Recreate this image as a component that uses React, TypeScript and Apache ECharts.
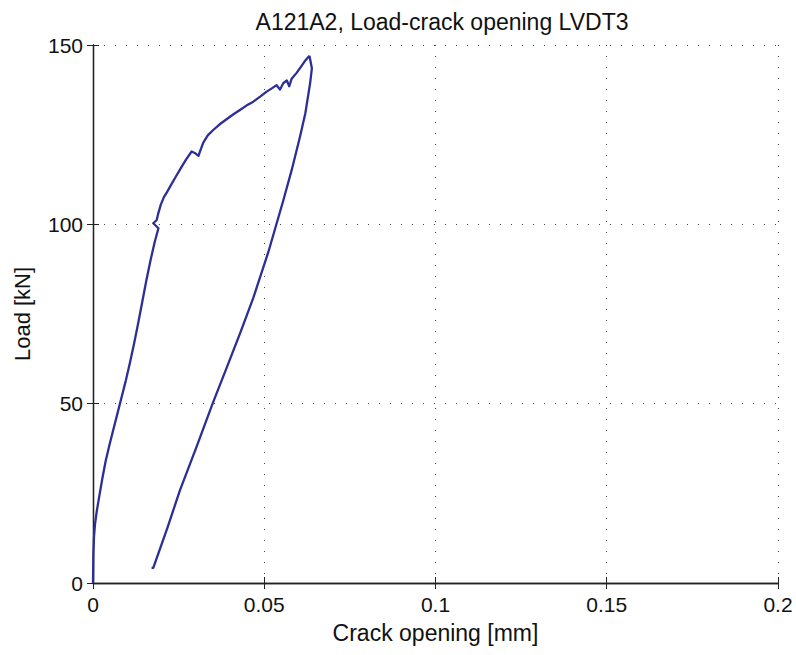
import React, { useEffect, useRef } from "react";
import * as echarts from "echarts";

const titleText = "A121A2, Load-crack opening LVDT3";
const xTicks = [0, 0.05, 0.1, 0.15, 0.2];
const yTicks = [0, 50, 100, 150];

// Loading branch (crack opening mm, load kN)
const loadX = [0, 0.00005, 0.0001, 0.0003, 0.0006, 0.0011, 0.0018, 0.0027, 0.0037, 0.0048, 0.0060, 0.0072, 0.0084, 0.0096, 0.0108, 0.0120, 0.0132, 0.0144, 0.0156, 0.0168, 0.0180, 0.0191, 0.0176, 0.0186, 0.0191, 0.0198, 0.0207, 0.0216, 0.0225, 0.0240, 0.0256, 0.0272, 0.0288, 0.0297, 0.0308, 0.0313, 0.0322, 0.0335, 0.0351, 0.0370, 0.0390, 0.0410, 0.0429, 0.0448, 0.0468, 0.0488, 0.0507, 0.0522, 0.0536, 0.0546, 0.0556, 0.0566, 0.0573, 0.0580, 0.0595, 0.0609, 0.0620, 0.0632];
const loadY = [0, 4, 8, 13, 16.5, 20, 24, 29, 34, 38.5, 43, 47.5, 52, 56.5, 61.5, 66.8, 72.5, 78.5, 84.5, 90, 95, 98.9, 100.3, 101.2, 103.2, 105.5, 107.6, 109, 110.5, 113, 115.6, 118.1, 120.3, 119.9, 119.1, 120.5, 122.8, 124.8, 126.3, 127.9, 129.3, 130.7, 131.9, 133.1, 134.2, 135.6, 137, 137.9, 138.8, 137.6, 139.4, 140.1, 138.5, 140.6, 142.3, 144.2, 145.7, 147];

// Unloading branch
const unloadX = [0.0632, 0.0639, 0.0634, 0.0620, 0.0604, 0.0580, 0.0556, 0.0512, 0.0468, 0.0431, 0.0391, 0.0350, 0.0302, 0.0254, 0.0218, 0.0176, 0.0171];
const unloadY = [147, 143.5, 139.4, 131.0, 124.3, 115.1, 106.8, 92.3, 79.5, 70.0, 60.2, 50.2, 37.9, 25.9, 15.6, 4.2, 4.2];

const lineColor = "#2b2f96";

export default function App() {
  const ref = useRef<HTMLDivElement>(null);
  useEffect(() => {
    if (!ref.current) return;
    const chart = echarts.init(ref.current, null, { renderer: "svg" });
    const loadPts = loadX.map((x, i) => [x, loadY[i]]);
    const unloadPts = unloadX.map((x, i) => [x, unloadY[i]]);
    const font = "'Liberation Sans', Arial, Helvetica, sans-serif";
    const gridLine = { show: true, lineStyle: { color: "#444", type: [1, 10], width: 1 } };
    const boxLine = { show: true, lineStyle: { color: "#222", width: 1.3 } };
    const tick = { show: true, inside: true, length: 6, lineStyle: { color: "#222" } };
    chart.setOption({
      animation: false,
      backgroundColor: "#ffffff",
      title: {
        text: titleText,
        left: 437,
        top: 5,
        textAlign: "center",
        textStyle: { fontFamily: font, fontSize: 23, fontWeight: "normal", color: "#111" },
      },
      grid: { left: 93, right: 18, top: 45, bottom: 72, containLabel: false },
      xAxis: [
        {
          type: "value",
          min: 0,
          max: 0.2,
          interval: 0.05,
          name: "Crack opening [mm]",
          nameLocation: "middle",
          nameGap: 38,
          nameTextStyle: { fontFamily: font, fontSize: 23, color: "#111" },
          axisLine: boxLine,
          axisTick: tick,
          axisLabel: {
            fontFamily: font,
            fontSize: 21,
            color: "#111",
            margin: 11,
            formatter: (v: number) => (xTicks.indexOf(v) >= 0 ? String(v) : ""),
          },
          splitLine: gridLine,
        },
        {
          type: "value",
          position: "top",
          min: 0,
          max: 0.2,
          interval: 0.05,
          axisLine: boxLine,
          axisTick: tick,
          axisLabel: { show: false },
          splitLine: { show: false },
        },
      ],
      yAxis: [
        {
          type: "value",
          min: 0,
          max: 150,
          interval: 50,
          name: "Load [kN]",
          nameLocation: "middle",
          nameGap: 60,
          nameTextStyle: { fontFamily: font, fontSize: 22, color: "#111" },
          axisLine: boxLine,
          axisTick: tick,
          axisLabel: {
            fontFamily: font,
            fontSize: 21,
            color: "#111",
            margin: 10,
            formatter: (v: number) => (yTicks.indexOf(v) >= 0 ? String(v) : ""),
          },
          splitLine: gridLine,
        },
        {
          type: "value",
          position: "right",
          min: 0,
          max: 150,
          interval: 50,
          axisLine: boxLine,
          axisTick: tick,
          axisLabel: { show: false },
          splitLine: { show: false },
        },
      ],
      series: [
        {
          type: "line",
          data: loadPts,
          showSymbol: false,
          smooth: false,
          lineStyle: { color: lineColor, width: 2.3, join: "round" },
          itemStyle: { color: lineColor },
        },
        {
          type: "line",
          data: unloadPts,
          showSymbol: false,
          smooth: false,
          lineStyle: { color: lineColor, width: 2.3, join: "round" },
          itemStyle: { color: lineColor },
        },
      ],
    });
    return () => chart.dispose();
  }, []);
  return <div ref={ref} style={{ width: 796, height: 655, position: "absolute", left: 0, top: 0 }} />;
}
